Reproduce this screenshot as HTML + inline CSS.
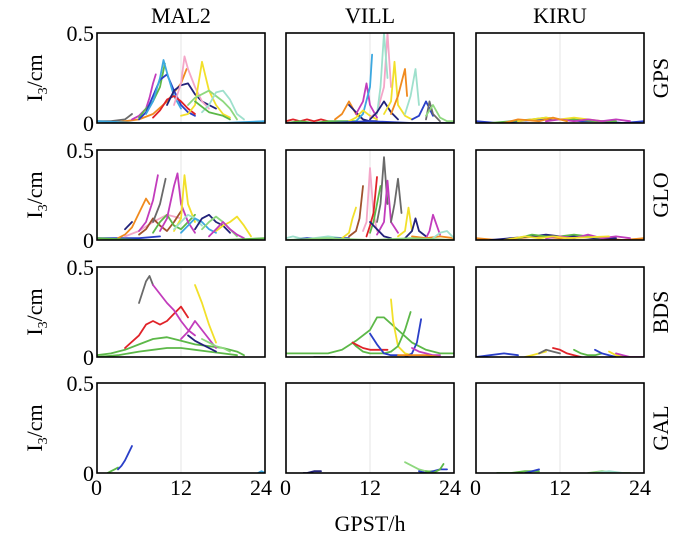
<!DOCTYPE html>
<html><head><meta charset="utf-8"><style>
html,body{margin:0;padding:0;background:#fff;}
svg{display:block;font-family:"Liberation Serif",serif;}
</style></head><body>
<svg id="chart" width="700" height="538" viewBox="0 0 700 538" xmlns="http://www.w3.org/2000/svg"></svg>
<script>
const stations = ["MAL2","VILL","KIRU"];
const systems = ["GPS","GLO","BDS","GAL"];
const xTicks = [0,12,24];
const yTickLabels = ["0","0.5"];
const yTickValues = [0,0.5];
const C = {b:"#2a3fc8",r:"#e02228",y:"#f2e02a",g:"#5cb848",m:"#c23cbc",c:"#3ca8e0",o:"#f08a1e",lg:"#8ed87e",p:"#f4a6c8",n:"#22227a",t:"#9ee0cc",k:"#6a6a6a",br:"#a0522d"};

const p00 = [
 ["k",[0,2,4,5],[0.01,0.01,0.02,0.05]],
 ["o",[2,4,6,8,10,12,12.8],[0.0,0.01,0.02,0.05,0.12,0.22,0.3]],
 ["m",[5,6,7,7.5,8,8.4],[0.02,0.04,0.08,0.14,0.22,0.27]],
 ["g",[6,7,8,9,9.7],[0.03,0.08,0.12,0.2,0.33]],
 ["b",[6,7,8,9,10,11,12,13,14],[0.02,0.06,0.15,0.24,0.27,0.18,0.1,0.06,0.04]],
 ["c",[7,8,9,9.5,10,11,12],[0.05,0.12,0.25,0.35,0.28,0.15,0.08]],
 ["r",[8,9,10,11,12,13,14],[0.03,0.07,0.13,0.15,0.12,0.08,0.05]],
 ["n",[10,11,12,13,14,15,16,17],[0.1,0.18,0.21,0.22,0.16,0.12,0.1,0.08]],
 ["p",[11,12,12.5,13,14,15,16],[0.1,0.22,0.37,0.3,0.2,0.12,0.08]],
 ["y",[12,13,14,15,16,17,18,19],[0.04,0.05,0.1,0.34,0.18,0.1,0.05,0.03]],
 ["lg",[13,14,15,16,17,18,19,20],[0.1,0.14,0.16,0.18,0.15,0.12,0.08,0.02]],
 ["t",[15,16,17,18,19,20,21],[0.06,0.1,0.17,0.18,0.13,0.05,0.02]],
 ["g",[14,15,16,17,18,19],[0.12,0.09,0.06,0.05,0.04,0.02]],
 ["c",[0,6,12,18,24],[0.01,0.0,0.0,0.0,0.01]]
];
const p01 = [
 ["r",[0,1,2,3,4,5,6],[0.01,0.02,0.01,0.02,0.01,0.02,0.01]],
 ["g",[0,2,4,6,8,10],[0.0,0.01,0.0,0.01,0.01,0.01]],
 ["o",[7,8,9,10,11],[0.02,0.05,0.12,0.05,0.02]],
 ["n",[9,10,11,12,13],[0.1,0.06,0.02,0.01,0.01]],
 ["m",[10,11,11.5,12,13],[0.05,0.12,0.22,0.1,0.03]],
 ["c",[10,11,12,12.3],[0.01,0.05,0.2,0.38]],
 ["y",[9,10,11,12,13],[0.01,0.03,0.07,0.04,0.02]],
 ["p",[12,13,14,14.5,15],[0.03,0.06,0.2,0.5,0.2]],
 ["t",[13,13.5,14,14.5],[0.05,0.2,0.5,0.25]],
 ["n",[12,13,14,15,16],[0.02,0.06,0.12,0.06,0.02]],
 ["y",[14,15,15.5,16,17,18],[0.05,0.12,0.34,0.1,0.04,0.02]],
 ["o",[15,16,17,17.3],[0.05,0.15,0.3,0.15]],
 ["t",[17,17.8,18.5,19],[0.05,0.15,0.3,0.1]],
 ["b",[18,19,20,21],[0.02,0.04,0.12,0.04]],
 ["k",[20,20.5,21,22],[0.02,0.12,0.05,0.01]],
 ["lg",[20,21,22,23,24],[0.04,0.1,0.03,0.01,0.01]],
 ["b",[0,6,12,18,24],[0.0,0.0,0.01,0.0,0.0]]
];
const p02 = [
 ["b",[0,3,6,9,12,15,18,21,24],[0.01,0.0,0.01,0.02,0.02,0.01,0.01,0.0,0.01]],
 ["g",[2,5,8,10,12,14,17,20],[0.0,0.01,0.02,0.03,0.02,0.02,0.01,0.01]],
 ["y",[6,8,10,12,14,16,18],[0.01,0.02,0.03,0.02,0.03,0.02,0.01]],
 ["m",[10,12,14,16,18,20,22],[0.01,0.02,0.01,0.02,0.01,0.02,0.01]],
 ["o",[4,6,9,11,13],[0.0,0.02,0.01,0.03,0.01]]
];
const p10 = [
 ["b",[0,3,6,9],[0.01,0.01,0.01,0.02]],
 ["n",[4,4.5,5],[0.06,0.08,0.1]],
 ["o",[3,4,5,6,7,7.5],[0.01,0.03,0.07,0.15,0.23,0.2]],
 ["p",[4,6,8,10,12],[0.02,0.05,0.1,0.14,0.12]],
 ["m",[6,7,8,8.7],[0.05,0.1,0.22,0.36]],
 ["br",[6,7,8,9,10,11,12],[0.03,0.06,0.12,0.08,0.05,0.1,0.16]],
 ["k",[8,9,9.8],[0.1,0.2,0.34]],
 ["g",[8,9,10,11,12,13,14],[0.04,0.1,0.14,0.08,0.06,0.1,0.14]],
 ["m",[9,10,11,11.5,12,13,14],[0.05,0.12,0.3,0.37,0.2,0.1,0.04]],
 ["y",[11,12,12.5,13,14],[0.05,0.12,0.36,0.2,0.1]],
 ["t",[11,12,13,14,15],[0.06,0.1,0.14,0.12,0.08]],
 ["c",[12,13,14,15,16,17],[0.04,0.08,0.12,0.1,0.06,0.04]],
 ["n",[14,15,16,17,18,19],[0.06,0.12,0.14,0.1,0.08,0.04]],
 ["lg",[15,16,17,18,19,20],[0.06,0.1,0.13,0.1,0.06,0.02]],
 ["y",[17,18,19,20,21,22],[0.05,0.08,0.1,0.13,0.08,0.02]],
 ["m",[16,17,18,19,20,21],[0.02,0.06,0.1,0.06,0.03,0.01]],
 ["g",[0,6,12,18,24],[0.01,0.0,0.0,0.0,0.01]]
];
const p11 = [
 ["t",[0,1,2,4,6,8],[0.01,0.02,0.01,0.01,0.02,0.01]],
 ["b",[1,3,5,7,9],[0.0,0.01,0.0,0.01,0.01]],
 ["y",[8,9,9.5,10],[0.01,0.04,0.12,0.18]],
 ["br",[9,10,10.5,11],[0.02,0.05,0.12,0.3]],
 ["p",[11,11.5,12,12.5,13],[0.05,0.1,0.4,0.15,0.05]],
 ["r",[11.5,12,12.5,13],[0.02,0.08,0.15,0.35]],
 ["g",[12,12.5,13,13.5],[0.04,0.1,0.2,0.3]],
 ["k",[13,13.5,14,14.5],[0.1,0.2,0.46,0.2]],
 ["m",[13,14,14.5,15,16],[0.03,0.1,0.33,0.1,0.04]],
 ["n",[12,13,14,15],[0.1,0.06,0.02,0.01]],
 ["k",[15,15.5,16,16.5],[0.1,0.2,0.34,0.15]],
 ["y",[16,17,17.5,18],[0.02,0.05,0.18,0.05]],
 ["n",[17,18,18.5,19,20],[0.01,0.05,0.12,0.05,0.02]],
 ["m",[20,20.5,21,22],[0.01,0.05,0.14,0.03]],
 ["o",[18,20,22,24],[0.02,0.01,0.02,0.01]],
 ["t",[21,22,23,24],[0.01,0.04,0.05,0.01]],
 ["lg",[0,6,12,18,24],[0.0,0.01,0.0,0.01,0.0]]
];
const p12 = [
 ["o",[0,3,6,9,12,15,18,21,24],[0.01,0.0,0.01,0.02,0.01,0.02,0.01,0.0,0.01]],
 ["n",[2,5,8,10,12,14,17,20],[0.0,0.01,0.02,0.03,0.02,0.02,0.01,0.01]],
 ["g",[6,8,10,12,14,16,18],[0.01,0.03,0.02,0.02,0.03,0.02,0.01]],
 ["m",[10,12,14,16,18,20,22],[0.01,0.02,0.01,0.03,0.01,0.02,0.01]],
 ["y",[4,7,9,11,13,19],[0.0,0.02,0.01,0.02,0.01,0.02]]
];
const p20 = [
 ["g",[0,2,4,6,8,10,12,14,16,18,20,21],[0.01,0.02,0.04,0.07,0.1,0.11,0.09,0.07,0.06,0.05,0.03,0.01]],
 ["g",[0,3,6,8,10,12,14,16,18,20],[0.0,0.01,0.03,0.04,0.05,0.05,0.04,0.03,0.02,0.01]],
 ["r",[4,6,7,8,9,10,11,12,13],[0.05,0.12,0.18,0.2,0.18,0.2,0.24,0.28,0.22]],
 ["k",[6,7,7.5,8],[0.3,0.42,0.45,0.4]],
 ["m",[8,9,10,11,12,13,14],[0.4,0.35,0.3,0.26,0.2,0.15,0.12]],
 ["m",[12,13,14,15,16,17],[0.1,0.14,0.2,0.15,0.1,0.05]],
 ["y",[14,15,16,17],[0.4,0.3,0.18,0.08]],
 ["n",[13,14,15,16,17],[0.12,0.09,0.07,0.05,0.03]],
 ["lg",[15,16,17,18,19],[0.1,0.08,0.06,0.05,0.03]]
];
const p21 = [
 ["g",[0,3,6,8,10,12,13,14,16,18,20,22,24],[0.02,0.02,0.02,0.04,0.09,0.15,0.22,0.22,0.15,0.08,0.04,0.02,0.02]],
 ["k",[4,5,6,7],[0.0,0.0,0.0,0.0]],
 ["g",[9.5,10,11,12,13,14,15],[0.08,0.06,0.03,0.02,0.02,0.02,0.03]],
 ["r",[9.5,10,11,12,13,14.5],[0.08,0.07,0.05,0.04,0.04,0.04]],
 ["b",[12,13,14,15,16],[0.13,0.07,0.02,0.01,0.01]],
 ["y",[15,15.3,16,17,18],[0.32,0.2,0.06,0.02,0.01]],
 ["g",[15,16,17,17.8],[0.03,0.06,0.15,0.25]],
 ["b",[17,18,18.7,19.3],[0.0,0.02,0.08,0.21]],
 ["m",[18,19,20,21,22],[0.05,0.03,0.02,0.01,0.01]],
 ["o",[16,18,20,22],[0.01,0.01,0.01,0.0]]
];
const p22 = [
 ["b",[0,2,4,6],[0.0,0.01,0.02,0.01]],
 ["y",[7,8,9,10],[0.0,0.01,0.02,0.03]],
 ["k",[9,10,11,12],[0.02,0.04,0.03,0.02]],
 ["r",[11,12,13,14,15],[0.05,0.04,0.02,0.01,0.0]],
 ["g",[14,15,16,17,18],[0.04,0.02,0.01,0.01,0.02]],
 ["b",[17,18,19,20],[0.04,0.02,0.01,0.0]],
 ["y",[19,20,21,22],[0.03,0.01,0.0,0.0]],
 ["m",[20,21,22,23,24],[0.02,0.01,0.0,0.0,0.0]]
];
const p30 = [
 ["g",[1.5,2,2.5,3],[0.0,0.01,0.02,0.03]],
 ["b",[3,3.5,4,4.5,5],[0.02,0.04,0.07,0.11,0.15]],
 ["c",[23,23.5,24],[0.0,0.01,0.0]]
];
const p31 = [
 ["n",[2.5,3,4,5],[0.0,0.0,0.01,0.01]],
 ["lg",[17,18,19,20,21],[0.06,0.04,0.02,0.01,0.01]],
 ["b",[19,20,21,22,23],[0.01,0.0,0.01,0.02,0.02]],
 ["g",[20,21,22,22.5],[0.01,0.0,0.02,0.05]]
];
const p32 = [
 ["g",[3,5,7,9],[0.0,0.0,0.01,0.01]],
 ["b",[7,8,9],[0.0,0.01,0.02]],
 ["lg",[16,18,20,22],[0.0,0.01,0.0,0.0]],
 ["t",[17,19,21],[0.0,0.01,0.0]]
];
const panelData = [[p00,p01,p02],[p10,p11,p12],[p20,p21,p22],[p30,p31,p32]];

const svg = document.getElementById("chart");
const NS = "http://www.w3.org/2000/svg";
const colX = [97,286,476], colW = [168,168,168];
const rowY = [33,150,267,383], rowH = 90;
const YMAX = 0.5, XMAX = 24;
function mk(tag, attrs, parent){const e=document.createElementNS(NS,tag);for(const k in attrs)e.setAttribute(k,attrs[k]);(parent||svg).appendChild(e);return e;}
function sx(c,t){return colX[c]+t/XMAX*colW[c];}
function sy(r,v){return rowY[r]+rowH-v/YMAX*rowH;}

const defs = mk("defs",{});
for(let r=0;r<4;r++)for(let c=0;c<3;c++){
  const cp=mk("clipPath",{id:"clip"+r+c},defs);
  mk("rect",{x:colX[c],y:rowY[r],width:colW[c],height:rowH},cp);
}

stations.forEach((s,c)=>{
  const t=mk("text",{x:sx(c,12),y:23,"text-anchor":"middle","font-size":"22"});
  t.textContent=s;
  
  
});
systems.forEach((s,r)=>{
  const y=rowY[r]+rowH/2;
  const t=mk("text",{x:668,y:y,"text-anchor":"middle","font-size":"22",transform:"rotate(-90 668 "+y+")"});
  t.textContent=s;
  
  
  const yl=mk("text",{x:42,y:y,"text-anchor":"middle","font-size":"22",transform:"rotate(-90 42 "+y+")"});
  yl.innerHTML='I<tspan font-size="14" dy="5">3</tspan><tspan dy="-5">/cm</tspan>';
  
  
});

for(let r=0;r<4;r++)for(let c=0;c<3;c++){
  const g=mk("g",{});
  
  
  mk("line",{x1:sx(c,12),x2:sx(c,12),y1:rowY[r],y2:rowY[r]+rowH,stroke:"#e4e4e4","stroke-width":"1"},g);
  const sg=mk("g",{"clip-path":"url(#clip"+r+c+")"},g);
  panelData[r][c].forEach((ser,i)=>{
    const pts=ser[1].map((t,j)=>sx(c,t).toFixed(1)+","+sy(r,ser[2][j]).toFixed(1)).join(" ");
    const pl=mk("polyline",{points:pts,fill:"none",stroke:C[ser[0]],"stroke-width":"1.8","stroke-linejoin":"round","stroke-linecap":"round"},sg);
    
    
  });
  const fr=mk("rect",{x:colX[c],y:rowY[r],width:colW[c],height:rowH,fill:"none",stroke:"#000","stroke-width":"1.6"},g);
  
  
  if(c===0){
    yTickValues.forEach((v,i)=>{
      const t=mk("text",{x:colX[0]-3,y:sy(r,v)+8,"text-anchor":"end","font-size":"22"});
      t.textContent=yTickLabels[i];
      
      
    });
  }
  if(r===3){
    xTicks.forEach(v=>{
      const anchor = v===0?"start":(v===24?"end":"middle");
      const xx = v===0?sx(c,v)-6:(v===24?sx(c,v)+7:sx(c,v));
      const t=mk("text",{x:xx,y:495,"text-anchor":anchor,"font-size":"22"});
      t.textContent=String(v);
      
      
    });
  }
}
const xt=mk("text",{x:370,y:531,"text-anchor":"middle","font-size":"22"});
xt.textContent="GPST/h";


</script>
</body></html>
